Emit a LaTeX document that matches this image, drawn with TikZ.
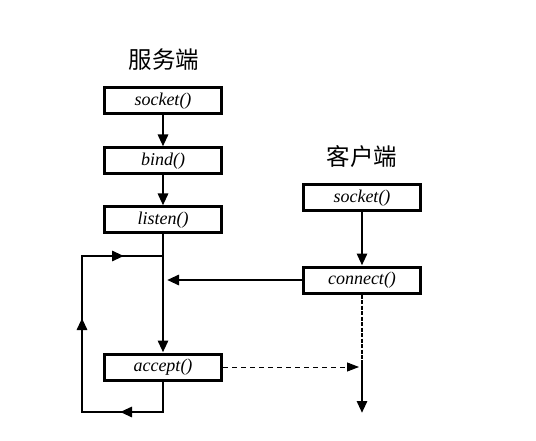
\documentclass[tikz,border=0pt]{standalone}
\usepackage{fontspec}
\setmainfont{Liberation Serif}
\newfontfamily\cjk{Noto Sans CJK SC}
\usetikzlibrary{arrows.meta}
\begin{document}
\begin{tikzpicture}[x=1pt,y=-1pt,
  fn/.style={draw,line width=3pt,minimum width=117pt,minimum height=26pt,inner sep=0pt,font=\fontsize{18}{18}\selectfont\itshape},
  ttl/.style={font=\cjk\fontsize{23.5}{23.5}\selectfont},
  conn/.style={line width=2.8pt,-{Triangle[length=12pt,width=10pt]}},
  tip/.style={-{Triangle[length=12pt,width=10pt]}},
  thin dash/.style={line width=0.9pt,dash pattern=on 5pt off 4pt,-{Triangle[length=12pt,width=9pt]}}
]
\useasboundingbox (0,0) rectangle (536,441);
\node[ttl] (st) at (164,60) {服务端};
\node[fn] (s1) at (163,101) {socket()};
\node[fn] (s2) at (163,161) {bind()};
\node[fn] (s3) at (163,220) {listen()};
\node[fn] (s4) at (163,367) {accept()};
\node[ttl] (ct) at (362,157) {客户端};
\node[fn] (c1) at (362,198) {socket()};
\node[fn] (c2) at (362,280) {connect()};
\coordinate (lt) at (163,256);
\coordinate (ltl) at (82,256);
\coordinate (lbl) at (82,412);
\coordinate (lb) at (163,412);
\coordinate (mid) at (163,280);
\coordinate (cm) at (362,360);
\coordinate (ce) at (362,413);
\coordinate (ah) at (362,367);
\draw[conn] (s1) -- (s2);
\draw[conn] (s2) -- (s3);
\draw[conn] (s3) -- (s4);
\draw[conn] (c1) -- (c2);
\draw[conn] (c2.west) -- ([xshift=4pt]mid);
\draw[line width=2.8pt] (s4.south) -- (lb) -- (lbl) -- (ltl) -- (lt);
\draw[line width=2.8pt,tip] (lb) -- (120,412);
\draw[line width=2.8pt,tip] (lbl) -- (82,318);
\draw[line width=2.8pt,tip] (ltl) -- (124,256);
\draw[line width=2.8pt,dash pattern=on 4pt off 1.5pt] (c2.south) -- (cm);
\draw[conn] (cm) -- (ce);
\draw[thin dash] (s4.east) -- ([xshift=-3pt]ah);
\end{tikzpicture}
\end{document}
